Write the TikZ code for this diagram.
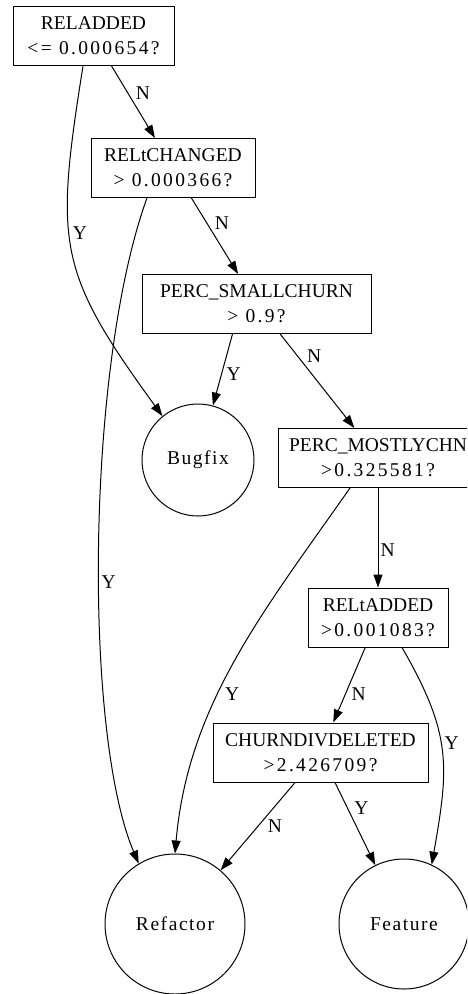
\documentclass[tikz,border=0pt]{standalone}
\usepackage{fontspec}
\setmainfont{Liberation Serif}
\newfontfamily\numfont[LetterSpace=12]{Liberation Serif}
\newfontfamily\leaffont[LetterSpace=8]{Liberation Serif}
\usetikzlibrary{arrows.meta, positioning}

\begin{document}
\begin{tikzpicture}[auto, >={Triangle[length=13pt, width=9pt]}, line width=1pt, font=\fontsize{19.5}{25}\selectfont]
        % Estilos de los nodos del arbol
        \tikzstyle{test} = [draw, rectangle, minimum height=59pt, inner xsep=2pt, align=center]
        \tikzstyle{leaf} = [draw, circle, inner sep=0pt] % Hojas (clases)
        \tikzstyle{lbl} = [inner sep=2pt] % Etiquetas Y / N
        \useasboundingbox (0,0) rectangle (467pt,-994pt);
        \clip (0,0) rectangle (467pt,-994pt);
       % Nodes
       \node [test, minimum width=161pt] at (93.5pt,-36pt) (reladded) {RELADDED\\{\numfont <= 0.000654?}}; % Root
       \node [test, minimum width=164pt, on grid, below right=132pt and 79.5pt of reladded] (reltchanged) {RELtCHANGED\\{\numfont > 0.000366?}};
       \node [test, minimum width=229pt, on grid, below right=136pt and 83.5pt of reltchanged] (percsmall) {PERC\_SMALLCHURN\\{\numfont > 0.9?}};
       \node [leaf, minimum size=112pt, on grid, below left=156pt and 58.5pt of percsmall] (bugfix) {\leaffont Bugfix}; % Leaf
       \node [test, minimum width=200pt, on grid, below right=154pt and 121.5pt of percsmall] (percmostly) {PERC\_MOSTLYCHN\\{\numfont >0.325581?}};
       \node [test, minimum width=140pt, on grid, below=159.5pt of percmostly] (reltadded) {RELtADDED\\{\numfont >0.001083?}};
       \node [test, minimum width=215pt, on grid, below left=135pt and 57.5pt of reltadded] (churndiv) {CHURNDIVDELETED\\{\numfont >2.426709?}};
       \node [leaf, minimum size=140pt, on grid, below left=171.5pt and 145.5pt of churndiv] (refactor) {\leaffont Refactor}; % Leaf
       \node [leaf, minimum size=130pt, on grid, below right=171.5pt and 83.5pt of churndiv] (feature) {\leaffont Feature}; % Leaf
       % Connections
       \draw[->] (reladded) -- node[lbl]{N} (reltchanged);
       \draw[->] ([xshift=-10.5pt]reladded.south) to[out=-99, in=126, out distance=180pt, in distance=180pt] node[lbl, pos=.46]{Y} (bugfix.129);
       \draw[->] (reltchanged) -- node[lbl, pos=.45]{N} (percsmall);
       \draw[->] ([xshift=-26pt]reltchanged.south) to[out=-110, in=113, out distance=177pt, in distance=143pt] node[lbl, pos=.55]{Y} (refactor.121);
       \draw[->] ([xshift=-24pt]percsmall.south) -- node[lbl, pos=.43]{Y} (bugfix);
       \draw[->] (percsmall) -- node[lbl, pos=.33]{N} (percmostly);
       \draw[->] ([xshift=-28pt]percmostly.south) to[out=-125, in=85, out distance=150pt, in distance=150pt] node[lbl, pos=.57]{Y} (refactor.north);
       \draw[->] (percmostly) -- node[lbl, pos=.62]{N} (reltadded);
       \draw[->] (reltadded) -- node[lbl]{N} (churndiv);
       \draw[->] ([xshift=24pt]reltadded.south) to[out=-60, in=80, distance=100pt] node[lbl, pos=.5]{Y} (feature.65);
       \draw[->] (churndiv) -- node[lbl, pos=.4]{N} (refactor);
       \draw[->] ([xshift=14.5pt]churndiv.south) -- node[lbl, pos=.42]{Y} (feature);

      \end{tikzpicture}
\end{document}
